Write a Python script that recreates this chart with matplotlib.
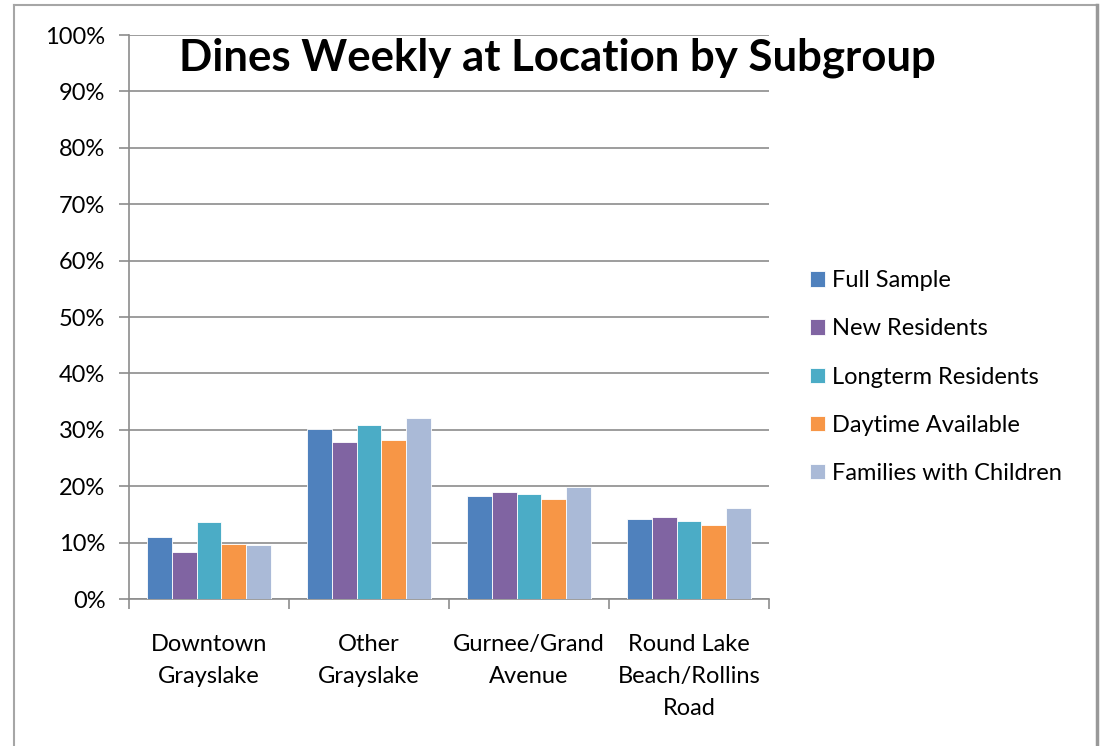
import matplotlib
matplotlib.use("Agg")
import matplotlib.pyplot as plt
import numpy as np
from matplotlib.lines import Line2D

plt.rcParams['font.family'] = ['Lato', 'DejaVu Sans']

# Datos
categorias = ["Downtown\nGrayslake", "Other\nGrayslake", "Gurnee/Grand\nAvenue",
              "Round Lake\nBeach/Rollins\nRoad"]
grupos = ["Full Sample", "New Residents", "Longterm Residents",
          "Daytime Available", "Families with Children"]
full_sample = [11.0, 30.2, 18.2, 14.1]
new_residents = [8.3, 27.9, 19.0, 14.5]
longterm = [13.6, 30.8, 18.6, 13.8]
daytime = [9.7, 28.2, 17.7, 13.2]
families = [9.6, 32.1, 19.9, 16.1]
colores = ["#4F81BD", "#8064A2", "#4BACC6", "#F79646", "#AABAD7"]
y_ticks = [0, 10, 20, 30, 40, 50, 60, 70, 80, 90, 100]

series = [full_sample, new_residents, longterm, daytime, families]

fig = plt.figure(figsize=(11.01, 7.46), dpi=100)
ax = fig.add_axes([129 / 1101, 1 - 599 / 746, 640 / 1101, 564 / 746])

x = np.arange(len(categorias))
ancho = 0.154
for i, (vals, nombre, col) in enumerate(zip(series, grupos, colores)):
    ax.bar(x - 2 * ancho + i * ancho, vals, width=ancho, color=col,
           edgecolor="#ffffff", linewidth=0.6, label=nombre, zorder=3)

ax.set_xlim(-0.5, len(categorias) - 0.5)
ax.set_ylim(0, 100)
ax.set_yticks(y_ticks)
ax.set_yticklabels([f"{v}%" for v in y_ticks])
ax.yaxis.grid(True, color="#8c8c8c", linewidth=1.2, zorder=0)
ax.set_axisbelow(True)

# ticks mayores en los limites de categoria, etiquetas en ticks menores
ax.set_xticks(np.arange(-0.5, len(categorias), 1.0))
ax.set_xticklabels([])
ax.set_xticks(x, minor=True)
ax.set_xticklabels(categorias, minor=True, fontsize=17, linespacing=1.65)
ax.tick_params(axis="x", which="minor", length=0, pad=25)
ax.tick_params(axis="x", which="major", length=7, width=1.2, color="#8c8c8c")
ax.tick_params(axis="y", length=7, width=1.2, color="#8c8c8c", labelsize=17, pad=10)

for lado in ["top", "right"]:
    ax.spines[lado].set_visible(False)
for lado in ["left", "bottom"]:
    ax.spines[lado].set_color("#8c8c8c")
    ax.spines[lado].set_linewidth(1.2)

fig.text(557 / 1101, 1 - 70 / 746, "Dines Weekly at Location by Subgroup",
         ha="center", va="baseline", fontsize=31.5, fontweight="bold")

ax.legend(loc="center left", bbox_to_anchor=(801 / 1101, 1 - 377 / 746),
          bbox_transform=fig.transFigure, frameon=False, fontsize=17,
          handlelength=0.62, handleheight=0.62, handletextpad=0.3,
          labelspacing=1.15, borderaxespad=0)

# marco del grafico
gris = "#a6a6a6"
fig.add_artist(Line2D([14 / 1101, 14 / 1101], [0, 1 - 5 / 746], color=gris, linewidth=1.5,
                      transform=fig.transFigure))
fig.add_artist(Line2D([14 / 1101, 1097 / 1101], [1 - 5 / 746, 1 - 5 / 746], color=gris,
                      linewidth=1.5, transform=fig.transFigure))
fig.add_artist(Line2D([1097 / 1101, 1097 / 1101], [0, 1 - 5 / 746], color="#999999",
                      linewidth=2.5, transform=fig.transFigure))

fig.savefig("out.png", dpi=100)
